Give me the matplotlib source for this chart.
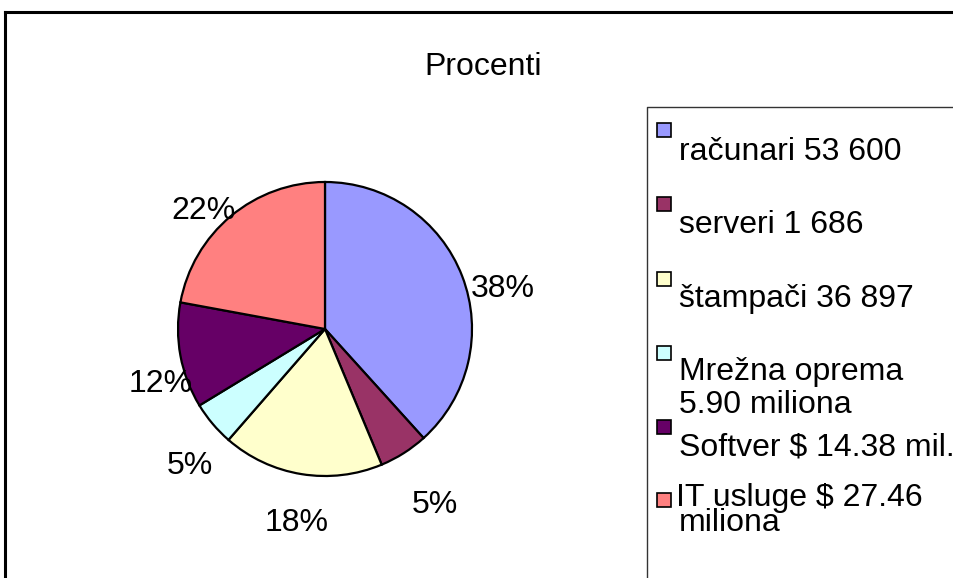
import matplotlib
matplotlib.use('Agg')
import matplotlib.pyplot as plt
from matplotlib.patches import Rectangle

plt.rcParams['font.family'] = ['Liberation Sans', 'DejaVu Sans']

#################### DATA #########################
categories = ['računari 53 600', 'serveri 1 686', 'štampači 36 897',
              'Mrežna oprema\n5.90 miliona', 'Softver $ 14.38 mil.',
              'IT usluge $ 27.46\nmiliona']
percents = [38.3, 5.4, 17.7, 4.9, 11.6, 22.1]
colors = ['#9999FF', '#993366', '#FFFFCC', '#CCFFFF', '#660066', '#FF8080']
title = 'Procenti'
################## END DATA #######################

W, H = 954, 578
FS = 23

def py(y):
	# pixel row (from top) -> axes y (from bottom)
	return H - y

fig = plt.figure(figsize=(W / 100, H / 100), dpi=100)
ax = fig.add_axes([0, 0, 1, 1])

wedges, texts, autotexts = ax.pie(percents, colors=colors, startangle=90, counterclock=False,
	center=(325, py(329)), radius=147, autopct='%1.0f%%',
	wedgeprops={'edgecolor': 'black', 'linewidth': 1.6},
	textprops={'fontsize': FS})
ax.set_xlim(0, W)
ax.set_ylim(0, H)
ax.set_aspect('auto')
ax.axis('off')

# excel puts the percent labels outside the pie
label_pos = [(503, 289), (435, 505), (297, 523), (190, 466), (161, 384), (204, 211)]
for t, (lx, ly) in zip(autotexts, label_pos):
	t.set_position((lx, py(ly)))
	t.set_ha('center')
	t.set_va('center')

ax.text(483, py(67), title, fontsize=FS, ha='center', va='center')

# outer frame
ax.plot([5, 5], [-5, py(12)], color='black', lw=2.2, solid_capstyle='projecting')
ax.plot([5, W + 5], [py(12), py(12)], color='black', lw=2.2, solid_capstyle='projecting')

# legend box
ax.plot([647, 647, W + 5], [-5, py(107), py(107)], color='#333333', lw=1.0)

sq_top = [123, 197, 272, 346, 420, 493]
baselines = [[160], [233], [307], [380, 413], [455], [506, 531]]
for i, cat in enumerate(categories):
	ax.add_patch(Rectangle((657, py(sq_top[i] + 14)), 14, 14, facecolor=colors[i],
		edgecolor='black', lw=1.2))
	for j, (line, bl) in enumerate(zip(cat.split('\n'), baselines[i])):
		# the last entry's first line sits right next to its square
		tx = 676 if (i == len(categories) - 1 and j == 0) else 679
		ax.text(tx, py(bl), line, fontsize=FS, ha='left', va='baseline')

plt.savefig('out.png', dpi=100)
